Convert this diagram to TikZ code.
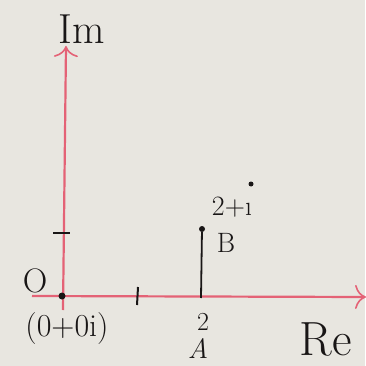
\documentclass[tikz,border=0pt]{standalone}
\usetikzlibrary{arrows.meta}
\definecolor{paper}{RGB}{232,230,224}
\definecolor{axisred}{RGB}{228,98,118}
\definecolor{ink}{RGB}{25,22,22}
\begin{document}
\begin{tikzpicture}[x=1pt,y=-1pt,
  axis/.style={draw=axisred,line width=2.2pt,-{To[length=11pt,width=24pt,line width=1.6pt]}},
  tickmark/.style={draw=ink,line width=2pt},
  inkline/.style={draw=ink,line width=1.8pt},
  lbl/.style={text=ink,inner sep=0pt},
  dotmark/.style={circle,fill=ink,inner sep=0pt,minimum size=6pt}]
\fill[paper] (0,0) rectangle (365,366);
\useasboundingbox (0,0) rectangle (365,366);
\coordinate (ImEnd) at (66,46);
\coordinate (ReEnd) at (366,297);
\coordinate (A) at (201,298);
\draw[axis] (63,310) -- (ImEnd);
\draw[axis] (32,296) -- (ReEnd);
\node[dotmark] (B) at (202,229) {};
\node[dotmark,minimum size=7pt] (Odot) at (62,296) {};
\draw[tickmark] (138,287) -- (137,305);
\draw[tickmark] (53,233) -- (70,233);
\draw[inkline] (B) -- (A);
\node[lbl,font=\fontsize{42}{42}\selectfont] (Im) at (82,29) {Im};
\node[lbl,font=\fontsize{34}{34}\selectfont] (Olbl) at (35,281) {O};
\node[lbl,font=\fontsize{32}{32}\selectfont] (Ozero) at (67,329) {(0+0i)};
\node[lbl,font=\fontsize{26}{26}\selectfont] (two) at (203,322) {2};
\node[lbl,font=\fontsize{28}{28}\selectfont\itshape] (Albl) at (198,349) {A};
\node[lbl,font=\fontsize{48}{48}\selectfont] (Re) at (326,339) {Re};
\node[lbl,font=\fontsize{28}{28}\selectfont] (Bval) at (232,207) {2+\i};
\node[dotmark,minimum size=5pt] (idot) at (251,184) {};
\node[lbl,font=\fontsize{28}{28}\selectfont] (Blbl) at (226,243) {B};
\end{tikzpicture}
\end{document}
